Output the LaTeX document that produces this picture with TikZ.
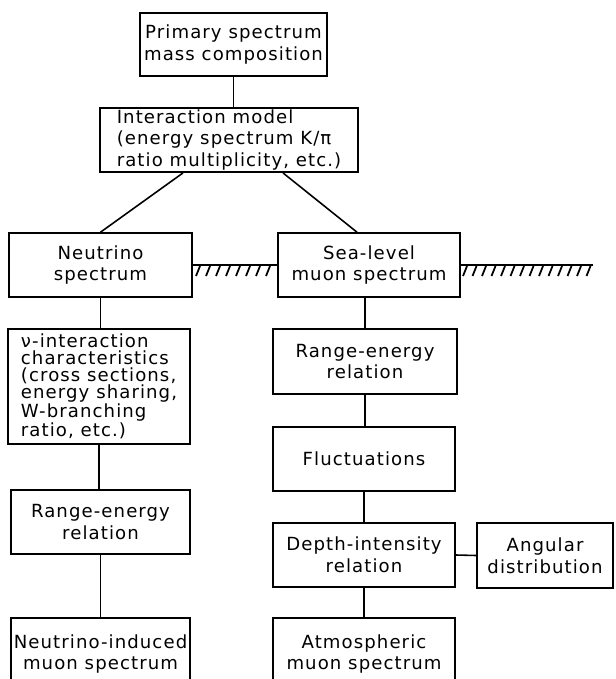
\documentclass[tikz,border=0pt]{standalone}
\usepackage{fontspec}
\setmainfont{DejaVu Sans}[LetterSpace=6]
\usetikzlibrary{calc}
\tikzset{
  blk/.style={draw, line width=0.9pt, align=center, inner sep=1pt,
    font=\fontsize{10.3}{12.3}\selectfont},
  wire/.style={line width=0.9pt},
  hatch/.style={line width=1pt}
}

\begin{document}
\begin{tikzpicture}
\useasboundingbox (0,0) rectangle (12.3,-13.58);
% top of the chain
\draw(4.67,-0.89) node[blk,minimum width=3.74cm,minimum height=1.26cm] (prim) {Primary spectrum\\mass composition};
\draw(4.58,-2.80) node[blk,align=left,minimum width=5.16cm,minimum height=1.28cm] (inter) {Interaction model\\(energy spectrum K/π\\ratio multiplicity, etc.)};
\draw(2.01,-5.30) node[blk,minimum width=3.66cm,minimum height=1.28cm] (neut) {Neutrino\\spectrum};
\draw(7.38,-5.30) node[blk,minimum width=3.64cm,minimum height=1.28cm] (sea) {Sea-level\\muon spectrum};
% neutrino side
\draw(1.98,-7.73) node[blk,align=left,minimum width=3.64cm,minimum height=2.30cm,font=\fontsize{10.3}{9.6}\selectfont] (nuint) {ν-interaction\\characteristics\\(cross sections,\\energy sharing,\\W-branching\\ratio, etc.)};
\draw(2.01,-10.44) node[blk,minimum width=3.58cm,minimum height=1.28cm] (rangeL) {Range-energy\\relation};
\draw(2.01,-13.08) node[blk,minimum width=3.58cm,minimum height=1.44cm] (nuind) {Neutrino-induced\\muon spectrum};
% muon side
\draw(7.30,-7.23) node[blk,minimum width=3.68cm,minimum height=1.30cm] (rangeR) {Range-energy\\relation};
\draw(7.28,-9.18) node[blk,minimum width=3.64cm,minimum height=1.28cm] (fluct) {Fluctuations};
\draw(7.28,-11.10) node[blk,minimum width=3.64cm,minimum height=1.28cm] (depth) {Depth-intensity\\relation};
\draw(10.90,-11.11) node[blk,minimum width=2.72cm,minimum height=1.30cm] (ang) {Angular\\distribution};
\draw(7.28,-13.08) node[blk,minimum width=3.64cm,minimum height=1.44cm] (atmos) {Atmospheric\\muon spectrum};
% connectors
\draw[wire] (prim.south) -- (prim.south |- inter.north);
\draw[wire] ($(inter.south)+(-0.92,0)$) -- (neut.north);
\draw[wire] ($(inter.south)+(1.08,0)$) -- ($(sea.north)+(-0.24,0)$);
\draw[wire] (neut.south) -- (neut.south |- nuint.north);
\draw[wire] (nuint.south) -- (nuint.south |- rangeL.north);
\draw[wire] (rangeL.south) -- (nuind.north);
\draw[wire] (rangeR.north |- sea.south) -- (rangeR.north);
\draw[wire] (rangeR.south) -- (rangeR.south |- fluct.north);
\draw[wire] (fluct.south) -- (depth.north);
\draw[wire] (depth.south) -- (atmos.north);
\draw[wire] (depth.east) -- (ang.west);
% ground level
\coordinate (gend) at (11.86,-5.30);
\draw[wire] (neut.east) -- (sea.west);
\draw[wire] (sea.east) -- (gend);
\foreach \x in {3.92,4.12,...,5.4}
  \draw[hatch] (\x,-5.52) -- ++(0.08,0.2);
\foreach \x in {9.26,9.45,...,11.8}
  \draw[hatch] (\x,-5.52) -- ++(0.08,0.2);
\end{tikzpicture}
\end{document}
